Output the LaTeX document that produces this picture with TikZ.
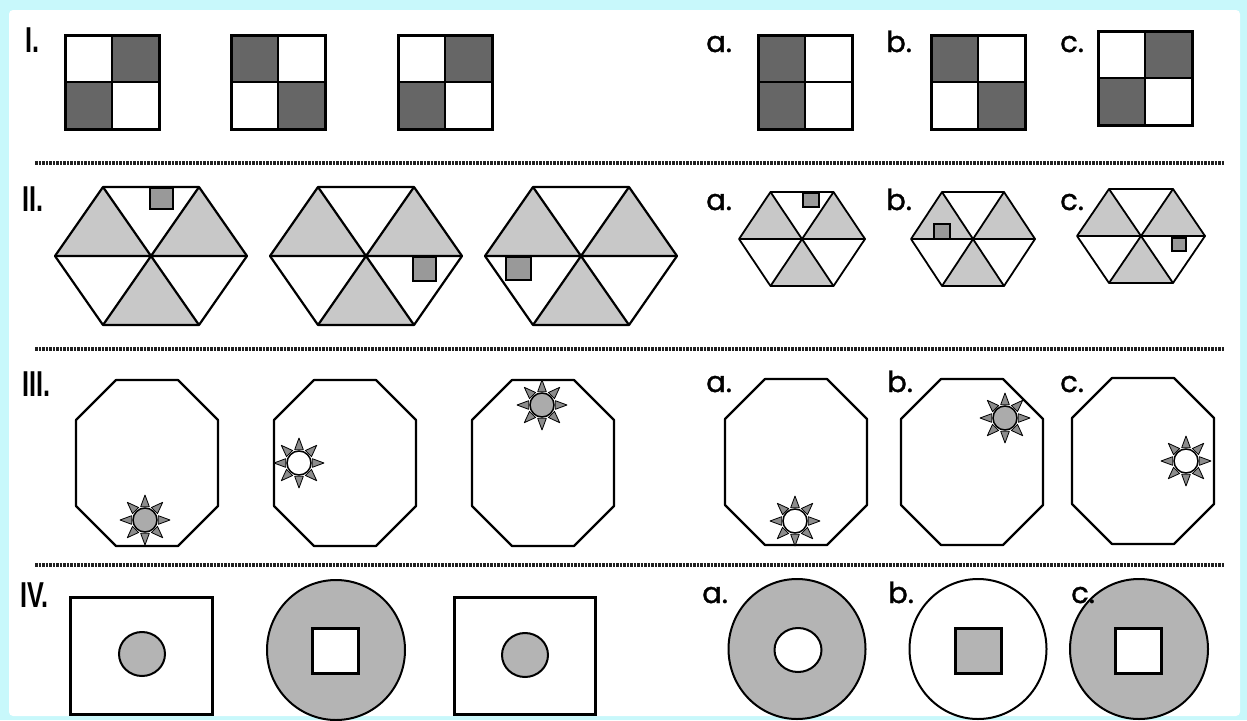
\documentclass[tikz,border=0pt]{standalone}
\usepackage{fontspec}
\newfontfamily\labfont{Poppins}[FakeBold=1.2]
\newfontfamily\romfont{Liberation Sans}
\definecolor{bgcyan}{HTML}{C8F8FB}
\definecolor{darksq}{HTML}{666666}
\definecolor{trigray}{HTML}{C8C8C8}
\definecolor{smallsq}{HTML}{999999}
\definecolor{sungray}{HTML}{ABABAB}
\definecolor{raygray}{HTML}{8C8C8C}
\definecolor{ringgray}{HTML}{B4B4B4}
\definecolor{sepcol}{HTML}{202020}

\newcommand{\quadfig}[6]{%
  \fill[#3] (#1,#2) rectangle (#1+47,#2+47);
  \fill[#4] (#1+47,#2) rectangle (#1+94,#2+47);
  \fill[#5] (#1,#2+47) rectangle (#1+47,#2+94);
  \fill[#6] (#1+47,#2+47) rectangle (#1+94,#2+94);
  \draw[quadinner] (#1+47,#2) -- (#1+47,#2+94) (#1,#2+47) -- (#1+94,#2+47);
  \draw[quadouter] (#1,#2) rectangle (#1+94,#2+94);
}
\newcommand{\hexfig}[6]{%
  \begin{scope}[shift={(#1,#2)}]
    \fill[trigray] (0,0) -- (-#3,0) -- (-#4,-#5) -- cycle;
    \fill[trigray] (0,0) -- (#4,-#5) -- (#3,0) -- cycle;
    \fill[trigray] (0,0) -- (#4,#5) -- (-#4,#5) -- cycle;
    \draw[line width=#6, line join=round] (-#3,0) -- (-#4,-#5) -- (#4,-#5) -- (#3,0) -- (#4,#5) -- (-#4,#5) -- cycle;
    \draw[line width=#6] (-#3,0) -- (#3,0) (-#4,-#5) -- (#4,#5) (#4,-#5) -- (-#4,#5);
  \end{scope}
}
\newcommand{\octfig}[2]{%
  \draw[octline] (#1+40,#2) -- (#1+102,#2) -- (#1+142,#2+40) -- (#1+142,#2+126) -- (#1+102,#2+166) -- (#1+40,#2+166) -- (#1,#2+126) -- (#1,#2+40) -- cycle;
}
\newcommand{\sunfig}[3]{%
  \begin{scope}[shift={(#1,#2)}]
    \foreach \a in {0,45,...,315}{
      \filldraw[rayline] (\a-18:14) -- (\a:25) -- (\a+18:14) -- cycle;
    }
    \filldraw[fill=#3, draw=black, line width=1.5pt] (0,0) circle[radius=12];
  \end{scope}
}

\begin{document}
\begin{tikzpicture}[x=1pt,y=-1pt,
  roman/.style={anchor=base west, inner sep=0pt, font=\romfont\bfseries\fontsize{36}{36}\selectfont},
  opt/.style={anchor=base west, inner sep=0pt, font=\labfont\fontsize{29}{29}\selectfont},
  sepline/.style={line width=3.5pt, draw=sepcol, dash pattern=on 2.5pt off 1pt},
  quadinner/.style={line width=2.5pt},
  quadouter/.style={line width=3pt, line join=miter},
  octline/.style={line width=2.2pt, line join=round},
  rayline/.style={fill=raygray, draw=black, line width=0.8pt, line join=round},
  smallbox/.style={fill=smallsq, draw=black, line width=2.5pt},
  tinybox/.style={fill=smallsq, draw=black, line width=1.5pt},
  framebox/.style={draw=black, line width=3pt},
  ringline/.style={draw=black, line width=2pt},
  innerbox/.style={draw=black, line width=3pt}
]
\fill[bgcyan] (0,0) rectangle (1247,720);
\fill[white, rounded corners=4pt] (9,10) rectangle (1240,716);
\useasboundingbox (0,0) rectangle (1247,720);

% separators
\coordinate (s1a) at (35,163); \coordinate (s1b) at (1224,163);
\coordinate (s2a) at (35,349); \coordinate (s2b) at (1224,349);
\coordinate (s3a) at (35,565); \coordinate (s3b) at (1224,565);
\draw[sepline] (s1a) -- (s1b);
\draw[sepline] (s2a) -- (s2b);
\draw[sepline] (s3a) -- (s3b);

% Row I
\quadfig{65}{35}{white}{darksq}{darksq}{white}
\quadfig{231}{35}{darksq}{white}{white}{darksq}
\quadfig{398}{35}{white}{darksq}{darksq}{white}
\quadfig{758}{35}{darksq}{white}{darksq}{white}
\quadfig{931}{35}{darksq}{white}{white}{darksq}
\quadfig{1098}{31}{white}{darksq}{darksq}{white}

% Row II
\hexfig{151}{256}{96}{48}{69}{2.2pt}
\filldraw[smallbox] (150,188) rectangle (173,209);
\hexfig{366}{256}{96}{48}{69}{2.2pt}
\filldraw[smallbox] (413,257) rectangle (436,281);
\hexfig{581}{256}{96}{48}{69}{2.2pt}
\filldraw[smallbox] (506,257) rectangle (531,280);

\hexfig{802}{239}{63}{31.5}{47}{1.8pt}
\filldraw[tinybox] (803,193) rectangle (819,207);
\hexfig{973}{239}{62}{31}{47}{1.8pt}
\filldraw[tinybox] (934,224) rectangle (950,239);
\hexfig{1141}{236}{64}{32}{47}{1.8pt}
\filldraw[tinybox] (1172,238) rectangle (1186,251);

% Row III
\octfig{76}{380}
\sunfig{145}{520}{sungray}
\octfig{274}{380}
\sunfig{299}{463}{white}
\octfig{472}{380}
\sunfig{542}{405}{sungray}
\octfig{725}{379}
\sunfig{795}{521}{white}
\octfig{901}{379}
\sunfig{1005}{418}{sungray}
\octfig{1072}{378}
\sunfig{1186}{461}{white}

% Row IV
\draw[framebox] (70,597) rectangle (212,714);
\filldraw[fill=ringgray, ringline] (142,654) ellipse[x radius=23, y radius=22];
\filldraw[fill=ringgray, ringline] (336,650) ellipse[x radius=69, y radius=70];
\filldraw[fill=white, innerbox] (312,628) rectangle (358,673);
\draw[framebox] (454,597) rectangle (595,714);
\filldraw[fill=ringgray, ringline] (525,655) ellipse[x radius=23, y radius=22];

\filldraw[fill=ringgray, ringline] (797,649) ellipse[x radius=68.5, y radius=70];
\filldraw[fill=white, ringline] (798,650) ellipse[x radius=23.5, y radius=22];
\filldraw[fill=white, ringline] (978,649) ellipse[x radius=68.5, y radius=70];
\filldraw[fill=ringgray, innerbox] (955,628) rectangle (1001,673);
\filldraw[fill=ringgray, ringline] (1139,649) ellipse[x radius=69, y radius=70];
\filldraw[fill=white, innerbox] (1115,628) rectangle (1161,673);

% row labels
\node[roman] (r1) at (25,52) {\scalebox{0.7}[1]{I.}};
\node[roman] (r2) at (22,211) {\scalebox{0.7}[1]{II.}};
\node[roman] (r3) at (22,396) {\scalebox{0.7}[1]{III.}};
\node[roman] (r4) at (20,607) {\scalebox{0.7}[1]{IV.}};

\node[opt] (a1) at (706,52) {a.};
\node[opt] (b1) at (886,52) {b.};
\node[opt] (c1) at (1060,52) {c.};
\node[opt] (a2) at (706,210) {a.};
\node[opt] (b2) at (886,210) {b.};
\node[opt] (c2) at (1060,210) {c.};
\node[opt] (a3) at (706,392) {a.};
\node[opt] (b3) at (887,392) {b.};
\node[opt] (c3) at (1060,392) {c.};
\node[opt] (a4) at (702,603) {a.};
\node[opt] (b4) at (888,603) {b.};
\node[opt] (c4) at (1071,603) {c.};
\end{tikzpicture}
\end{document}
